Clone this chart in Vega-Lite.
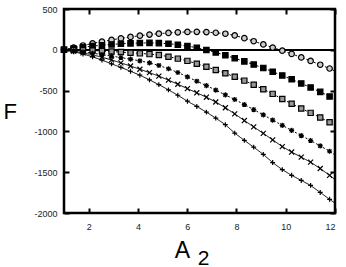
{
  "$schema": "https://vega.github.io/schema/vega-lite/v6.json",
  "width": 271,
  "height": 204,
  "autosize": "none",
  "padding": {"left": 64, "top": 9, "right": 11, "bottom": 54},
  "background": "white",
  "title": {"text": "2", "orient": "bottom", "anchor": "middle", "frame": "group", "dx": 4, "offset": 0, "dy": -14, "fontSize": 21, "font": "Liberation Sans", "fontWeight": "normal", "color": "#000"},
  "config": {
    "view": {"stroke": "#000", "strokeWidth": 2.5},
    "axis": {"grid": false, "domain": false, "tickColor": "#000", "tickWidth": 2, "tickSize": -5, "labelFont": "Liberation Sans", "labelFontSize": 9, "labelColor": "#222", "titleFont": "Liberation Sans", "titleFontWeight": "normal", "titleColor": "#000"}
  },
  "data": {"values": [
    {"x": 1, "a": 0, "b": 0, "c": 0, "d": 0, "e": 0, "f": 0},
    {"x": 1.39, "a": 27, "b": 16, "c": -2, "d": -12, "e": -17, "f": -23},
    {"x": 1.77, "a": 53, "b": 31, "c": -5, "d": -26, "e": -37, "f": -51},
    {"x": 2.16, "a": 78, "b": 45, "c": -9, "d": -42, "e": -62, "f": -86},
    {"x": 2.54, "a": 100, "b": 56, "c": -15, "d": -59, "e": -91, "f": -127},
    {"x": 2.93, "a": 121, "b": 66, "c": -21, "d": -77, "e": -124, "f": -172},
    {"x": 3.31, "a": 140, "b": 74, "c": -28, "d": -95, "e": -160, "f": -216},
    {"x": 3.7, "a": 158, "b": 79, "c": -36, "d": -115, "e": -199, "f": -263},
    {"x": 4.08, "a": 173, "b": 83, "c": -44, "d": -135, "e": -238, "f": -311},
    {"x": 4.47, "a": 187, "b": 85, "c": -53, "d": -161, "e": -280, "f": -368},
    {"x": 4.85, "a": 198, "b": 82, "c": -63, "d": -192, "e": -323, "f": -427},
    {"x": 5.24, "a": 207, "b": 75, "c": -84, "d": -232, "e": -371, "f": -491},
    {"x": 5.62, "a": 214, "b": 63, "c": -108, "d": -278, "e": -422, "f": -557},
    {"x": 6.01, "a": 219, "b": 47, "c": -136, "d": -331, "e": -476, "f": -630},
    {"x": 6.39, "a": 220, "b": 25, "c": -170, "d": -385, "e": -527, "f": -694},
    {"x": 6.78, "a": 217, "b": -2, "c": -208, "d": -439, "e": -581, "f": -764},
    {"x": 7.16, "a": 209, "b": -32, "c": -247, "d": -494, "e": -640, "f": -837},
    {"x": 7.55, "a": 197, "b": -67, "c": -288, "d": -553, "e": -710, "f": -918},
    {"x": 7.93, "a": 176, "b": -103, "c": -330, "d": -609, "e": -786, "f": -1021},
    {"x": 8.32, "a": 143, "b": -142, "c": -378, "d": -671, "e": -867, "f": -1110},
    {"x": 8.7, "a": 105, "b": -181, "c": -428, "d": -733, "e": -945, "f": -1193},
    {"x": 9.09, "a": 66, "b": -223, "c": -484, "d": -797, "e": -1024, "f": -1282},
    {"x": 9.47, "a": 28, "b": -268, "c": -540, "d": -861, "e": -1104, "f": -1382},
    {"x": 9.86, "a": -11, "b": -315, "c": -603, "d": -926, "e": -1186, "f": -1469},
    {"x": 10.24, "a": -50, "b": -362, "c": -661, "d": -988, "e": -1253, "f": -1538},
    {"x": 10.63, "a": -93, "b": -412, "c": -719, "d": -1051, "e": -1316, "f": -1601},
    {"x": 11.01, "a": -136, "b": -461, "c": -773, "d": -1112, "e": -1377, "f": -1662},
    {"x": 11.4, "a": -183, "b": -516, "c": -830, "d": -1178, "e": -1455, "f": -1748},
    {"x": 11.78, "a": -229, "b": -572, "c": -887, "d": -1243, "e": -1539, "f": -1832},
    {"x": 12, "a": -260, "b": -605, "c": -920, "d": -1290, "e": -1590, "f": -1880}
  ]},
  "transform": [{"fold": ["a", "b", "c", "d", "e", "f"], "as": ["s", "F"]}],
  "layer": [
    {
      "mark": {"type": "rule", "color": "#000", "strokeWidth": 1},
      "encoding": {
        "y": {"datum": 0, "type": "quantitative", "scale": {"domain": [-2000, 500], "nice": false},
              "axis": {"orient": "right", "values": [-2000, -1500, -1000, -500, 0, 500], "labels": false, "title": null}}
      }
    },
    {
      "mark": {"type": "line", "color": "#000", "strokeWidth": 1},
      "encoding": {
        "x": {"field": "x", "type": "quantitative", "scale": {"domain": [1, 12], "nice": false, "zero": false},
              "axis": {"orient": "bottom", "values": [2, 4, 6, 8, 10, 12], "labelPadding": 14, "title": "A", "titleFontSize": 23, "titleX": 118, "titleY": 44, "titleBaseline": "alphabetic", "titleAlign": "center"}},
        "y": {"field": "F", "type": "quantitative", "scale": {"domain": [-2000, 500], "nice": false},
              "axis": {"orient": "left", "values": [-2000, -1500, -1000, -500, 0, 500], "labelPadding": 12, "labelExpr": "'' + datum.value", "title": "F", "titleAngle": 0, "titleFontSize": 22, "titleX": -61, "titleY": 102, "titleAlign": "left", "titleBaseline": "middle"}},
        "detail": {"field": "s"},
        "strokeDash": {"field": "s", "type": "nominal", "legend": null,
                       "scale": {"domain": ["a", "b", "c", "d", "e", "f"], "range": [[2, 2], [2, 2], [2, 2], [2, 2], [1, 0], [1, 0]]}}
      }
    },
    {
      "transform": [{"filter": "datum.x < 11.9"}],
      "mark": {"type": "point", "filled": true, "stroke": "#000", "strokeWidth": 1.2, "opacity": 1},
      "encoding": {
        "x": {"field": "x", "type": "quantitative",
              "axis": {"orient": "top", "values": [2, 4, 6, 8, 10, 12], "labels": false, "title": null}},
        "y": {"field": "F", "type": "quantitative", "axis": null},
        "shape": {"field": "s", "type": "nominal", "legend": null,
                  "scale": {"domain": ["a", "b", "c", "d", "e", "f"],
                            "range": ["circle", "square", "square", "M-1,0L1,0M0,-1L0,1M-0.75,-0.75L0.75,0.75M-0.75,0.75L0.75,-0.75", "M-1,-1L1,1M-1,1L1,-1", "M-1,0L1,0M0,-1L0,1"]}},
        "fill": {"field": "s", "type": "nominal", "legend": null,
                 "scale": {"domain": ["a", "b", "c", "d", "e", "f"], "range": ["#cccccc", "#000000", "#999999", "#000000", "#000000", "#000000"]}},
        "size": {"field": "s", "type": "nominal", "legend": null,
                 "scale": {"domain": ["a", "b", "c", "d", "e", "f"], "range": [30, 24, 30, 45, 30, 40]}}
      }
    }
  ]
}
